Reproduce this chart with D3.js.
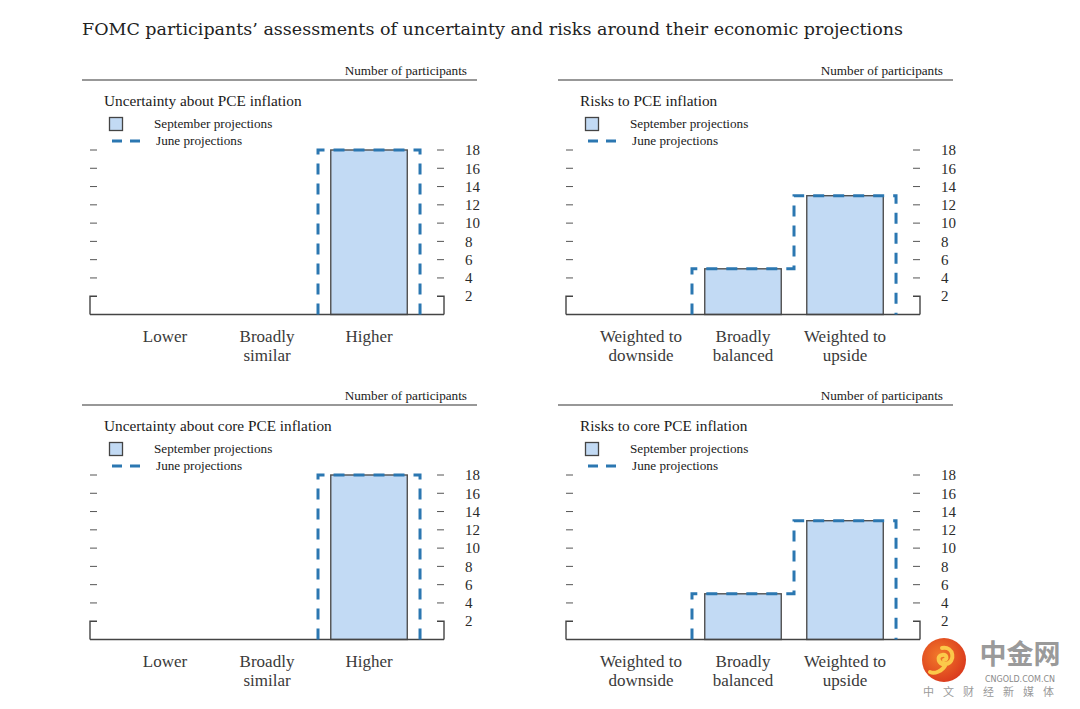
<!DOCTYPE html>
<html>
<head>
<meta charset="utf-8">
<script src="https://cdn.jsdelivr.net/npm/d3@7"></script>
<style>
  body { margin: 0; background: #fff; }
  svg { display: block; }
</style>
</head>
<body>
<svg id="chart" width="1080" height="709"></svg>
<script>
// categories and labels
const uncertaintyCats = ["Lower", "Broadly similar", "Higher"];
const uncertaintyLabels = [["Lower"], ["Broadly", "similar"], ["Higher"]];
const riskCats = ["Weighted to downside", "Broadly balanced", "Weighted to upside"];
const riskLabels = [["Weighted to", "downside"], ["Broadly", "balanced"], ["Weighted to", "upside"]];

// number of participants
const pceUncertaintySep = [0, 0, 18];
const pceUncertaintyJun = [0, 0, 18];
const pceRisksSep = [0, 5, 13];
const pceRisksJun = [0, 5, 13];
const coreUncertaintySep = [0, 0, 18];
const coreUncertaintyJun = [0, 0, 18];
const coreRisksSep = [0, 5, 13];
const coreRisksJun = [0, 5, 13];

const yTicks = [2, 4, 6, 8, 10, 12, 14, 16, 18];

const mainTitle = "FOMC participants\u2019 assessments of uncertainty and risks around their economic projections";

const panels = [
  { title: "Uncertainty about PCE inflation", cats: uncertaintyCats, labels: uncertaintyLabels, sep: pceUncertaintySep, jun: pceUncertaintyJun, x: 82, y: 80 },
  { title: "Risks to PCE inflation", cats: riskCats, labels: riskLabels, sep: pceRisksSep, jun: pceRisksJun, x: 558, y: 80 },
  { title: "Uncertainty about core PCE inflation", cats: uncertaintyCats, labels: uncertaintyLabels, sep: coreUncertaintySep, jun: coreUncertaintyJun, x: 82, y: 405 },
  { title: "Risks to core PCE inflation", cats: riskCats, labels: riskLabels, sep: coreRisksSep, jun: coreRisksJun, x: 558, y: 405 }
];

const serif = "'Liberation Serif', 'Times New Roman', serif";
const fillBlue = "#c2daf4";
const dashBlue = "#2b77b1";
const barStroke = "#505050";
const dashPattern = "11,9";

const svg = d3.select("#chart");

// main title, sized to the reference width
const titleText = svg.append("text")
  .attr("x", 82)
  .attr("y", 35)
  .attr("font-family", "'DejaVu Serif', serif")
  .attr("font-size", 18)
  .attr("fill", "#222")
  .text(mainTitle);
const tw = titleText.node().getComputedTextLength();
titleText.attr("font-size", 18 * 821 / tw);

panels.forEach(p => {
  const g = svg.append("g").attr("transform", `translate(${p.x},${p.y})`);

  const x = d3.scaleBand()
    .domain(p.cats)
    .range([8, 362])
    .paddingInner(0)
    .paddingOuter(0.235);
  const step = x.step();

  const y = d3.scaleLinear()
    .domain([0, 18])
    .range([234.5, 70]);
  const y0 = y(0);

  // header rule
  g.append("line")
    .attr("x1", 0).attr("x2", 395)
    .attr("y1", 0).attr("y2", 0)
    .attr("stroke", "#333")
    .attr("stroke-width", 1.2);

  g.append("text")
    .attr("x", 385).attr("y", -5)
    .attr("text-anchor", "end")
    .attr("font-family", serif)
    .attr("font-size", 13.2)
    .attr("fill", "#1a1a1a")
    .text("Number of participants");

  g.append("text")
    .attr("x", 22).attr("y", 26)
    .attr("font-family", serif)
    .attr("font-size", 15.3)
    .attr("fill", "#1a1a1a")
    .text(p.title);

  // legend
  g.append("rect")
    .attr("x", 27.5).attr("y", 37.5)
    .attr("width", 13).attr("height", 13)
    .attr("fill", fillBlue)
    .attr("stroke", "#444")
    .attr("stroke-width", 1.3);
  g.append("text")
    .attr("x", 72).attr("y", 48)
    .attr("font-family", serif)
    .attr("font-size", 13.2)
    .attr("fill", "#1a1a1a")
    .text("September projections");
  g.append("line")
    .attr("x1", 30).attr("x2", 59)
    .attr("y1", 61).attr("y2", 61)
    .attr("stroke", dashBlue)
    .attr("stroke-width", 3)
    .attr("stroke-dasharray", "10,8");
  g.append("text")
    .attr("x", 74).attr("y", 65)
    .attr("font-family", serif)
    .attr("font-size", 13.2)
    .attr("fill", "#1a1a1a")
    .text("June projections");

  // ticks: dashes on both sides, brackets at 2
  const tickVals = yTicks.filter(v => v > 2);
  g.selectAll("line.tl")
    .data(tickVals)
    .enter()
    .append("line")
    .attr("class", "tl")
    .attr("x1", 8).attr("x2", 15)
    .attr("y1", d => y(d)).attr("y2", d => y(d))
    .attr("stroke", "#555")
    .attr("stroke-width", 1);
  g.selectAll("line.tr")
    .data(tickVals)
    .enter()
    .append("line")
    .attr("class", "tr")
    .attr("x1", 355).attr("x2", 362)
    .attr("y1", d => y(d)).attr("y2", d => y(d))
    .attr("stroke", "#555")
    .attr("stroke-width", 1);

  g.append("path")
    .attr("d", `M15,${y(2)}H8V${y0}`)
    .attr("fill", "none")
    .attr("stroke", "#444")
    .attr("stroke-width", 1.4);
  g.append("path")
    .attr("d", `M355,${y(2)}H362V${y0}`)
    .attr("fill", "none")
    .attr("stroke", "#444")
    .attr("stroke-width", 1.4);

  g.selectAll("text.tick")
    .data(yTicks)
    .enter()
    .append("text")
    .attr("class", "tick")
    .attr("x", 383)
    .attr("y", d => y(d))
    .attr("dy", "0.35em")
    .attr("font-family", serif)
    .attr("font-size", 15)
    .attr("fill", "#2a2a2a")
    .text(d => d);

  // September bars
  const data = p.cats.map((c, i) => ({ cat: c, sep: p.sep[i], jun: p.jun[i] }));
  g.selectAll("rect.bar")
    .data(data.filter(d => d.sep > 0))
    .enter()
    .append("rect")
    .attr("class", "bar")
    .attr("x", d => x(d.cat) + step * 0.125)
    .attr("width", step * 0.75)
    .attr("y", d => y(d.sep))
    .attr("height", d => y0 - y(d.sep))
    .attr("fill", fillBlue)
    .attr("stroke", barStroke)
    .attr("stroke-width", 1.4);

  // baseline
  g.append("line")
    .attr("x1", 8).attr("x2", 362)
    .attr("y1", y0).attr("y2", y0)
    .attr("stroke", "#444")
    .attr("stroke-width", 1.4);

  // June outline as a step path, skipping the runs on the baseline
  const pts = [[x(p.cats[0]), y0]];
  data.forEach(d => {
    pts.push([x(d.cat), y(d.jun)]);
    pts.push([x(d.cat) + step, y(d.jun)]);
  });
  pts.push([x(p.cats[p.cats.length - 1]) + step, y0]);
  let path = "";
  let pen = false;
  for (let i = 1; i < pts.length; i++) {
    const a = pts[i - 1], b = pts[i];
    if (a[1] === y0 && b[1] === y0) { pen = false; continue; }
    if (!pen) { path += `M${a[0]},${a[1]}`; pen = true; }
    path += `L${b[0]},${b[1]}`;
  }
  g.append("path")
    .attr("d", path)
    .attr("fill", "none")
    .attr("stroke", dashBlue)
    .attr("stroke-width", 3)
    .attr("stroke-dasharray", dashPattern);

  // category labels
  const lab = g.selectAll("text.cat")
    .data(p.cats)
    .enter()
    .append("text")
    .attr("class", "cat")
    .attr("x", d => x(d) + step / 2)
    .attr("y", 262)
    .attr("text-anchor", "middle")
    .attr("font-family", serif)
    .attr("font-size", 17)
    .attr("fill", "#3a3a3a");
  lab.each(function (d, i) {
    d3.select(this).selectAll("tspan")
      .data(p.labels[i])
      .enter()
      .append("tspan")
      .attr("x", x(d) + step / 2)
      .attr("dy", (t, j) => j === 0 ? 0 : 19)
      .text(t => t);
  });
});

// watermark
const wm = svg.append("g").attr("transform", "translate(944,660)");
const grad = svg.append("defs").append("radialGradient")
  .attr("id", "wmGrad").attr("cx", "40%").attr("cy", "40%").attr("r", "70%");
grad.append("stop").attr("offset", "0%").attr("stop-color", "#f27a2a");
grad.append("stop").attr("offset", "100%").attr("stop-color", "#d8341c");
wm.append("circle").attr("r", 22).attr("fill", "url(#wmGrad)");
wm.append("path")
  .attr("d", "M-2,-12 C10,-14 12,2 2,4 C-6,5 -8,-4 -2,-5 C3,-6 4,0 0,0 M2,4 C-2,12 -10,14 -14,12")
  .attr("fill", "none")
  .attr("stroke", "#fbc94a")
  .attr("stroke-width", 4)
  .attr("stroke-linecap", "round");
svg.append("text")
  .attr("x", 1020).attr("y", 664)
  .attr("text-anchor", "middle")
  .attr("font-family", "'Noto Sans CJK SC', sans-serif")
  .attr("font-weight", "bold")
  .attr("font-size", 27)
  .attr("fill", "#9a9a9a")
  .text("中金网");
svg.append("text")
  .attr("x", 1020).attr("y", 682)
  .attr("text-anchor", "middle")
  .attr("font-family", "'DejaVu Sans', sans-serif")
  .attr("font-size", 8)
  .attr("fill", "#8a8a8a")
  .text("CNGOLD.COM.CN");
svg.append("text")
  .attr("x", 993).attr("y", 696)
  .attr("text-anchor", "middle")
  .attr("font-family", "'Noto Sans CJK SC', sans-serif")
  .attr("font-size", 11)
  .attr("letter-spacing", 9)
  .attr("fill", "#9a9a9a")
  .text("中文财经新媒体");
</script>
</body>
</html>
